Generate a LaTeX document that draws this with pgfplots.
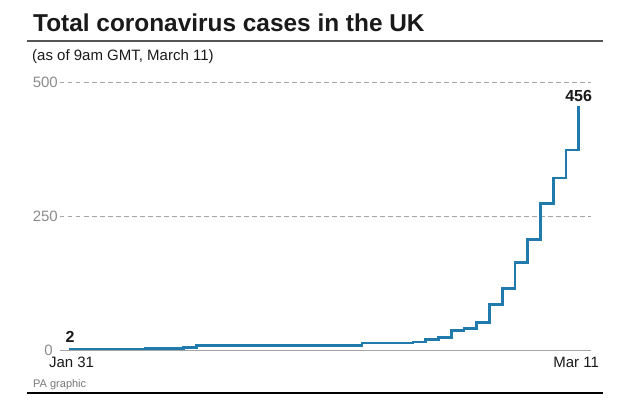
\documentclass[border=0pt]{standalone}
\usepackage{pgfplots}
\pgfplotsset{compat=1.18}
\usepackage{fontspec}
\setmainfont{Liberation Sans}
\definecolor{lineblue}{RGB}{33,122,172}
\definecolor{titleblack}{RGB}{26,26,26}
\definecolor{rulegray}{RGB}{85,85,85}
\definecolor{gridgray}{RGB}{165,165,165}
\definecolor{tickgray}{RGB}{140,140,140}
\definecolor{pagray}{RGB}{120,120,120}
\pgfplotstableread{
day cases
0 2
6 3
9 4
10 8
13 9
23 13
27 15
28 20
29 23
30 36
31 40
32 51
33 85
34 115
35 163
36 206
37 273
38 321
39 373
40 456
}\uktable
\begin{document}
\begin{tikzpicture}[x=1pt,y=1pt]
\path[use as bounding box] (0,0) rectangle (630,-404);
\fill[white] (0,0) rectangle (630,-404);
\node[anchor=base west, inner sep=0, font=\fontsize{24.4}{24.4}\selectfont\bfseries, text=titleblack] at (33,-31.7) {Total coronavirus cases in the UK};
\draw[line width=1.8pt, color=rulegray] (27,-41) -- (603,-41);
\node[anchor=base west, inner sep=0, font=\fontsize{15}{15}\selectfont, text=titleblack] at (32,-61) {(as of 9am GMT, March 11)};
\begin{axis}[
  at={(60pt,-350pt)}, anchor=south west,
  scale only axis, width=531pt, height=268pt,
  xmin=-0.71, xmax=40.97, ymin=0, ymax=500,
  axis line style={draw=none},
  major tick length=0pt,
  ytick={250,500},
  ymajorgrids,
  grid style={dash pattern=on 4.5pt off 3.5pt, color=gridgray, line width=0.9pt},
  extra y ticks={0},
  extra y tick style={grid style={solid, color=gridgray, line width=1pt}, yticklabel style={xshift=-5pt}},
  /pgf/number format/assume math mode=true,
  yticklabel style={anchor=east, inner sep=0pt, xshift=-2pt, font=\fontsize{15}{15}\selectfont, text=tickgray},
  xtick={0.2,39.8}, xticklabels={Jan 31, Mar 11},
  xticklabel style={anchor=north, inner sep=0pt, yshift=-7pt, font=\fontsize{15}{15}\selectfont, text=titleblack},
  clip=false,
]
\addplot[const plot, color=lineblue, line width=2.8pt, line join=miter] table[x=day, y=cases] {\uktable};
\node[anchor=base, inner sep=0pt, font=\fontsize{16}{16}\selectfont\bfseries, text=titleblack] at (axis cs:40,456) [yshift=3.6pt] {456};
\node[anchor=base, inner sep=0pt, font=\fontsize{16}{16}\selectfont\bfseries, text=titleblack] at (axis cs:0,2) [xshift=1pt, yshift=6pt] {2};
\end{axis}
\node[anchor=base west, inner sep=0, font=\fontsize{11}{11}\selectfont, text=pagray] at (33,-387.7) {PA graphic};
\draw[line width=1.8pt, color=black] (27,-393.3) -- (603,-393.3);
\end{tikzpicture}
\end{document}
